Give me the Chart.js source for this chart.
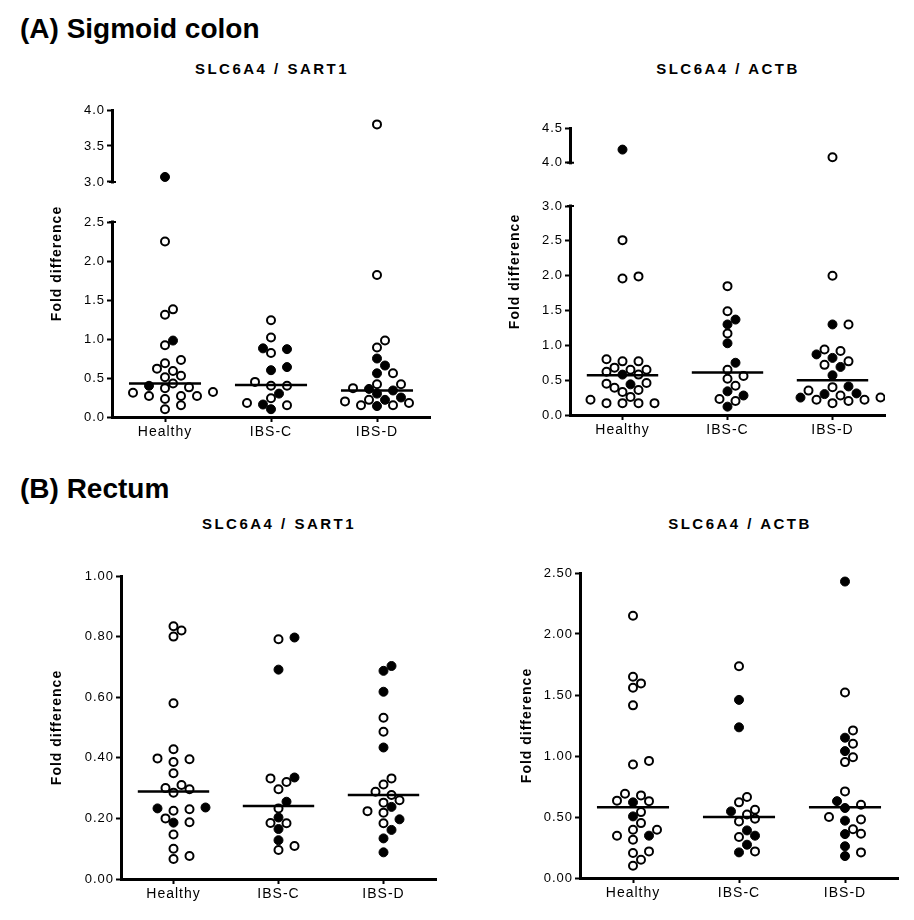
<!DOCTYPE html>
<html>
<head>
<meta charset="utf-8">
<script src="https://cdn.jsdelivr.net/npm/chart.js@4.4.1/dist/chart.umd.min.js"></script>
<style>
  html, body { margin: 0; padding: 0; background: #fff; overflow: hidden; }
  body { width: 914px; height: 920px; position: relative; font-family: 'Liberation Sans', Arial, sans-serif; color: #000; }
  .head { position: absolute; left: 20px; font-size: 28px; font-weight: bold; line-height: 28px; white-space: nowrap; }
  .ttl { position: absolute; font-size: 15px; font-weight: bold; line-height: 15px; letter-spacing: 2.5px; white-space: nowrap; transform: translateX(-50%); }
  canvas { position: absolute; }
</style>
</head>
<body>
<div class="head" style="top:15px">(A) Sigmoid colon</div>
<div class="ttl" style="left:272px;top:61px">SLC6A4 / SART1</div>
<div class="ttl" style="left:728px;top:61px">SLC6A4 / ACTB</div>
<div class="head" style="top:475px">(B) Rectum</div>
<div class="ttl" style="left:279px;top:516px">SLC6A4 / SART1</div>
<div class="ttl" style="left:740px;top:516px">SLC6A4 / ACTB</div>
<canvas id="sigSart"></canvas>
<canvas id="sigActb"></canvas>
<canvas id="recSart"></canvas>
<canvas id="recActb"></canvas>
<script>
const groups = ['Healthy', 'IBS-C', 'IBS-D'];

// (A) sigmoid colon, SLC6A4 / SART1  (per group: Healthy, IBS-C, IBS-D)
const sigSartOpen = [
  [2.25, 1.38, 1.31, 0.92, 0.73, 0.69, 0.62, 0.59, 0.53, 0.51, 0.43, 0.38, 0.37, 0.32, 0.31, 0.27, 0.27, 0.27, 0.23, 0.15, 0.10],
  [1.24, 1.02, 0.82, 0.45, 0.40, 0.40, 0.24, 0.18, 0.15],
  [3.80, 1.82, 0.98, 0.89, 0.56, 0.42, 0.42, 0.37, 0.22, 0.20, 0.18, 0.15, 0.15]
];
const sigSartFilled = [
  [3.07, 0.98, 0.40],
  [0.88, 0.87, 0.64, 0.60, 0.30, 0.16, 0.10],
  [0.75, 0.66, 0.56, 0.36, 0.34, 0.30, 0.25, 0.22, 0.14]
];
const sigSartMedian = [0.43, 0.41, 0.34];
const sigSartTicks = [0, 0.5, 1.0, 1.5, 2.0, 2.5, 3.0, 3.5, 4.0];
const sigSartLabels = ['0.0', '0.5', '1.0', '1.5', '2.0', '2.5', '3.0', '3.5', '4.0'];

// (A) sigmoid colon, SLC6A4 / ACTB
const sigActbOpen = [
  [2.51, 1.99, 1.96, 0.80, 0.77, 0.77, 0.68, 0.65, 0.65, 0.62, 0.58, 0.46, 0.45, 0.39, 0.36, 0.33, 0.26, 0.22, 0.17, 0.17, 0.17, 0.17],
  [1.85, 1.49, 1.17, 0.65, 0.56, 0.52, 0.42, 0.23, 0.20],
  [4.08, 2.00, 1.30, 0.94, 0.92, 0.77, 0.72, 0.40, 0.35, 0.28, 0.25, 0.22, 0.22, 0.20, 0.17]
];
const sigActbFilled = [
  [4.19, 0.58, 0.44],
  [1.37, 1.30, 1.03, 0.75, 0.34, 0.28, 0.12],
  [1.30, 0.87, 0.82, 0.69, 0.57, 0.41, 0.31, 0.30, 0.25]
];
const sigActbMedian = [0.57, 0.61, 0.50];
const sigActbTicks = [0, 0.5, 1.0, 1.5, 2.0, 2.5, 3.0, 4.0, 4.5];
const sigActbLabels = ['0.0', '0.5', '1.0', '1.5', '2.0', '2.5', '3.0', '4.0', '4.5'];

// (B) rectum, SLC6A4 / SART1
const recSartOpen = [
  [0.834, 0.82, 0.80, 0.58, 0.428, 0.398, 0.395, 0.386, 0.349, 0.31, 0.30, 0.296, 0.285, 0.23, 0.225, 0.20, 0.187, 0.147, 0.10, 0.076, 0.066],
  [0.791, 0.332, 0.32, 0.296, 0.233, 0.185, 0.184, 0.109, 0.096],
  [0.532, 0.486, 0.332, 0.312, 0.288, 0.277, 0.26, 0.252, 0.224, 0.219, 0.184]
];
const recSartFilled = [
  [0.236, 0.233, 0.186],
  [0.797, 0.691, 0.335, 0.255, 0.203, 0.165, 0.128],
  [0.703, 0.687, 0.618, 0.434, 0.238, 0.197, 0.162, 0.134, 0.088]
];
const recSartMedian = [0.289, 0.241, 0.277];
const recSartTicks = [0, 0.2, 0.4, 0.6, 0.8, 1.0];
const recSartLabels = ['0.00', '0.20', '0.40', '0.60', '0.80', '1.00'];

// (B) rectum, SLC6A4 / ACTB
const recActbOpen = [
  [2.15, 1.65, 1.595, 1.56, 1.415, 0.96, 0.93, 0.69, 0.677, 0.634, 0.63, 0.54, 0.45, 0.396, 0.396, 0.347, 0.314, 0.218, 0.205, 0.15, 0.10],
  [1.735, 0.664, 0.62, 0.56, 0.52, 0.486, 0.464, 0.336, 0.218],
  [1.52, 1.21, 1.10, 0.99, 0.95, 0.71, 0.60, 0.50, 0.48, 0.40, 0.363, 0.21]
];
const recActbFilled = [
  [0.62, 0.505, 0.347],
  [1.46, 1.235, 0.546, 0.39, 0.347, 0.273, 0.21],
  [2.43, 1.15, 1.04, 0.63, 0.574, 0.47, 0.36, 0.26, 0.18]
];
const recActbMedian = [0.579, 0.50, 0.58];
const recActbTicks = [0, 0.5, 1.0, 1.5, 2.0, 2.5];
const recActbLabels = ['0.00', '0.50', '1.00', '1.50', '2.00', '2.50'];

Chart.defaults.font.family = "'Liberation Sans', Arial, sans-serif";
Chart.defaults.color = '#000';

// value -> position on a y axis that has a break in it
function toDisp(brk, v) {
  if (!brk || v <= brk.lowMax) return v;
  return brk.lowMax + brk.gap + (v - brk.highMin) * brk.k;
}

const spacing = {
  id: 'spacing',
  beforeLayout(chart) { chart.ctx.letterSpacing = '1px'; },
  beforeDraw(chart) { chart.ctx.letterSpacing = '1px'; }
};

// cut the y axis line between the two segments
const axisBreak = {
  id: 'axisBreak',
  afterDraw(chart, args, opts) {
    const brk = opts.brk;
    if (!brk) return;
    const ctx = chart.ctx;
    const y = chart.scales.y;
    const x0 = chart.chartArea.left;
    const pLow = y.getPixelForValue(brk.lowMax);
    const pHigh = y.getPixelForValue(toDisp(brk, brk.highMin));
    ctx.save();
    ctx.fillStyle = '#fff';
    ctx.fillRect(x0 - 5, pHigh + 1.5, 9, pLow - pHigh - 3);
    ctx.strokeStyle = '#000';
    ctx.lineWidth = 2;
    ctx.beginPath();
    ctx.moveTo(x0 - 3, pLow); ctx.lineTo(x0 + 4, pLow);
    ctx.moveTo(x0 - 3, pHigh); ctx.lineTo(x0 + 4, pHigh);
    ctx.stroke();
    ctx.restore();
  }
};

// spread the dots of each group sideways so they don't pile up
function swarm(chart) {
  const xs = chart.scales.x, ys = chart.scales.y;
  const unit = xs.getPixelForValue(1) - xs.getPixelForValue(0);
  const STEP = 8, MIN_D = 9;
  groups.forEach((_, g) => {
    const pts = [];
    chart.data.datasets.forEach(ds => {
      if (ds.swarm) ds.data.forEach(p => { if (p.g === g) pts.push(p); });
    });
    pts.sort((a, b) => a.y - b.y);
    const placed = [];
    pts.forEach(p => {
      const py = ys.getPixelForValue(p.y);
      for (let i = 0; i < 40; i++) {
        const off = (i % 2 ? 1 : -1) * Math.ceil(i / 2) * STEP;
        if (placed.every(q => Math.hypot(q.ox - off, q.py - py) >= MIN_D)) {
          placed.push({ ox: off, py: py });
          p.x = g + off / unit;
          break;
        }
      }
    });
  });
}

function dotPlot(id, box, open, filled, medians, ticks, labels, brk, titleGap) {
  const W_Y = 80, PAD_T = 12, PAD_R = 12, H_X = 30;
  const canvas = document.getElementById(id);
  canvas.width = W_Y + box.right - box.left + PAD_R;
  canvas.height = PAD_T + box.bottom - box.top + H_X;
  canvas.style.left = (box.left - W_Y) + 'px';
  canvas.style.top = (box.top - PAD_T) + 'px';

  const toPts = vals => vals.flatMap((arr, g) => arr.map(v => ({ x: g, y: toDisp(brk, v), g: g })));
  const medLine = medians.flatMap((m, g) => [
    { x: g - 0.34, y: toDisp(brk, m) }, { x: g + 0.34, y: toDisp(brk, m) }, { x: g + 0.5, y: null }
  ]);
  const dispMax = toDisp(brk, ticks[ticks.length - 1]);
  const axisLines = {
    grid: { display: true, drawOnChartArea: false, drawTicks: true, tickLength: 5, tickWidth: 2, tickColor: '#000' },
    border: { display: true, color: '#000', width: 3 }
  };

  const chart = new Chart(canvas, {
    type: 'scatter',
    data: {
      datasets: [
        {
          type: 'line', data: medLine, borderColor: '#000', borderWidth: 2.5,
          pointRadius: 0, spanGaps: false, fill: false
        },
        {
          data: toPts(filled), swarm: true, pointRadius: 4.5, pointBorderWidth: 1,
          backgroundColor: '#000', borderColor: '#000'
        },
        {
          data: toPts(open), swarm: true, pointRadius: 4, pointBorderWidth: 2,
          backgroundColor: '#fff', borderColor: '#000'
        }
      ]
    },
    options: {
      responsive: false,
      animation: false,
      layout: { padding: { top: PAD_T, right: PAD_R, left: 0, bottom: 0 } },
      plugins: {
        legend: { display: false },
        tooltip: { enabled: false },
        axisBreak: { brk: brk }
      },
      scales: {
        x: {
          type: 'linear', min: -0.5, max: 2.5,
          afterBuildTicks: s => { s.ticks = groups.map((_, i) => ({ value: i })); },
          afterFit: s => { s.height = H_X; },
          ticks: { callback: (v, i) => groups[i], font: { size: 14 }, padding: 2, maxRotation: 0, autoSkip: false },
          ...axisLines
        },
        y: {
          type: 'linear', min: 0, max: dispMax,
          afterBuildTicks: s => { s.ticks = ticks.map(v => ({ value: toDisp(brk, v) })); },
          afterFit: s => { s.width = W_Y; },
          ticks: { callback: (v, i) => labels[i], font: { size: 13 }, padding: 2 },
          title: {
            display: true, text: 'Fold difference',
            font: { size: 14, weight: 'bold' },
            padding: { top: W_Y - titleGap - 8.4, bottom: 0 }
          },
          ...axisLines
        }
      }
    },
    plugins: [spacing, axisBreak]
  });
  swarm(chart);
  chart.update('none');
  return chart;
}

dotPlot('sigSart', { left: 112, right: 430, top: 110, bottom: 417 },
  sigSartOpen, sigSartFilled, sigSartMedian, sigSartTicks, sigSartLabels,
  { lowMax: 2.5, highMin: 3.0, gap: 0.513, k: 0.923 }, 55);

dotPlot('sigActb', { left: 570, right: 885, top: 128, bottom: 415 },
  sigActbOpen, sigActbFilled, sigActbMedian, sigActbTicks, sigActbLabels,
  { lowMax: 3.0, highMin: 4.0, gap: 0.62, k: 1.0 }, 55);

dotPlot('recSart', { left: 121, right: 436, top: 576, bottom: 879 },
  recSartOpen, recSartFilled, recSartMedian, recSartTicks, recSartLabels,
  null, 64);

dotPlot('recActb', { left: 580, right: 898, top: 573, bottom: 878 },
  recActbOpen, recActbFilled, recActbMedian, recActbTicks, recActbLabels,
  null, 53);
</script>
</body>
</html>
